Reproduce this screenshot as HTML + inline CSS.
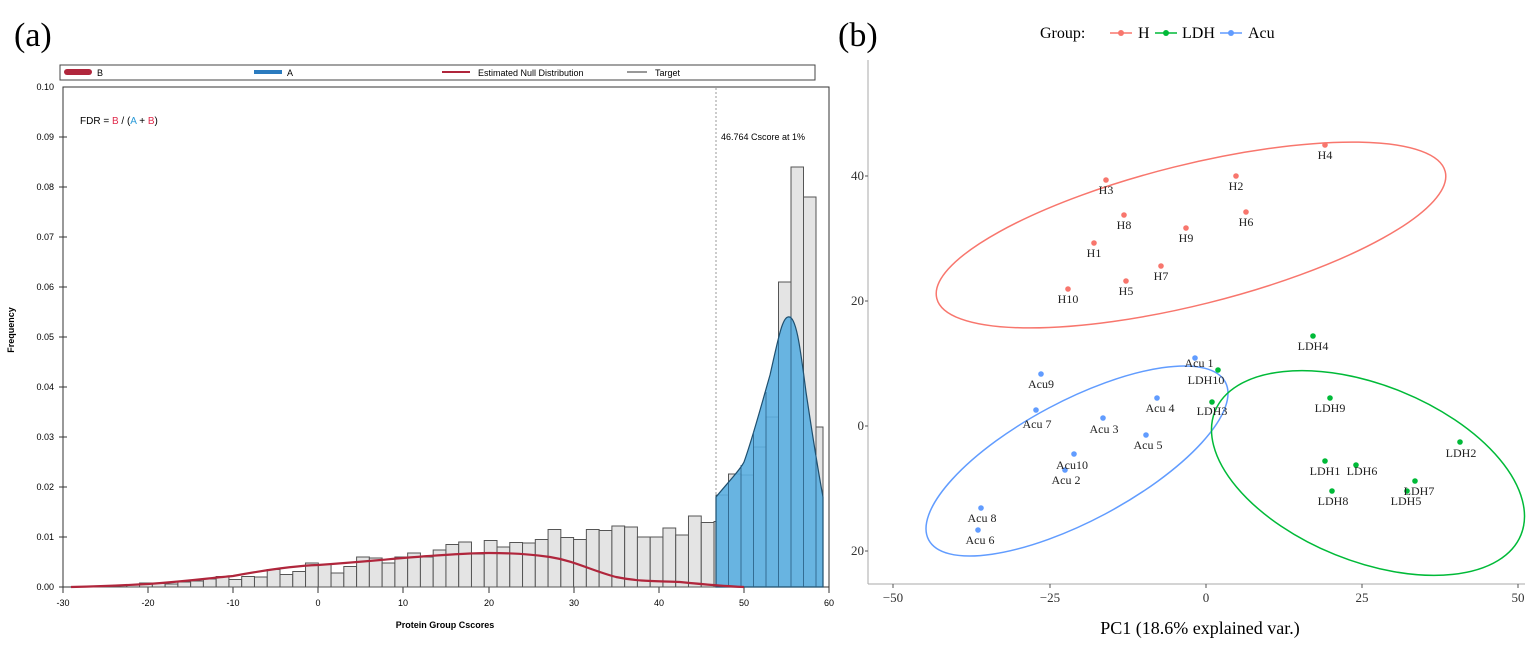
<!DOCTYPE html>
<html><head><meta charset="utf-8"><style>
body{margin:0;background:#fff;}
svg{display:block;}
</style></head><body>
<svg width="1535" height="650" viewBox="0 0 1535 650" xmlns="http://www.w3.org/2000/svg">
<rect width="1535" height="650" fill="#fff"/>
<text x="14" y="46" font-family="Liberation Serif, serif" font-size="34">(a)</text>
<text x="838" y="46" font-family="Liberation Serif, serif" font-size="34">(b)</text>

<rect x="60" y="65" width="755" height="15" fill="#fff" stroke="#444" stroke-width="1"/>
<rect x="64" y="69" width="28" height="6" rx="3" fill="#b0263c"/>
<text x="97" y="76" font-family="Liberation Sans, sans-serif" font-size="9">B</text>
<rect x="254" y="70" width="28" height="4" fill="#2b7bbf"/>
<text x="287" y="76" font-family="Liberation Sans, sans-serif" font-size="9">A</text>
<line x1="442" y1="72" x2="470" y2="72" stroke="#b0263c" stroke-width="2"/>
<text x="478" y="76" font-family="Liberation Sans, sans-serif" font-size="9">Estimated Null Distribution</text>
<line x1="627" y1="72" x2="647" y2="72" stroke="#999" stroke-width="2"/>
<text x="655" y="76" font-family="Liberation Sans, sans-serif" font-size="9">Target</text>

<rect x="63" y="87" width="766" height="500" fill="#fff" stroke="#333" stroke-width="1"/>
<g font-family="Liberation Sans, sans-serif" font-size="9" text-anchor="end">
<text x="54" y="590">0.00</text><text x="54" y="540">0.01</text><text x="54" y="490">0.02</text>
<text x="54" y="440">0.03</text><text x="54" y="390">0.04</text><text x="54" y="340">0.05</text>
<text x="54" y="290">0.06</text><text x="54" y="240">0.07</text><text x="54" y="190">0.08</text>
<text x="54" y="140">0.09</text><text x="54" y="90">0.10</text>
</g>
<g stroke="#333" stroke-width="1">
<line x1="59" y1="587" x2="67" y2="587"/><line x1="59" y1="537" x2="67" y2="537"/><line x1="59" y1="487" x2="67" y2="487"/><line x1="59" y1="437" x2="67" y2="437"/><line x1="59" y1="387" x2="67" y2="387"/><line x1="59" y1="337" x2="67" y2="337"/><line x1="59" y1="287" x2="67" y2="287"/><line x1="59" y1="237" x2="67" y2="237"/><line x1="59" y1="187" x2="67" y2="187"/><line x1="59" y1="137" x2="67" y2="137"/>
</g>
<text transform="translate(14,330) rotate(-90)" font-family="Liberation Sans, sans-serif" font-size="9" font-weight="bold" text-anchor="middle">Frequency</text>
<g font-family="Liberation Sans, sans-serif" font-size="9" text-anchor="middle">
<text x="63" y="606">-30</text><text x="148" y="606">-20</text><text x="233" y="606">-10</text><text x="318" y="606">0</text><text x="403" y="606">10</text><text x="489" y="606">20</text><text x="574" y="606">30</text><text x="659" y="606">40</text><text x="744" y="606">50</text><text x="829" y="606">60</text>
</g>
<g stroke="#333"><line x1="63" y1="587" x2="63" y2="593"/><line x1="148" y1="587" x2="148" y2="593"/><line x1="233" y1="587" x2="233" y2="593"/><line x1="318" y1="587" x2="318" y2="593"/><line x1="403" y1="587" x2="403" y2="593"/><line x1="489" y1="587" x2="489" y2="593"/><line x1="574" y1="587" x2="574" y2="593"/><line x1="659" y1="587" x2="659" y2="593"/><line x1="744" y1="587" x2="744" y2="593"/><line x1="829" y1="587" x2="829" y2="593"/></g>
<text x="445" y="628" font-family="Liberation Sans, sans-serif" font-size="9" font-weight="bold" text-anchor="middle">Protein Group Cscores</text>

<text x="80" y="124" font-family="Liberation Sans, sans-serif" font-size="10">FDR = <tspan fill="#e0294a">B</tspan> / (<tspan fill="#2a9ad8">A</tspan> + <tspan fill="#e0294a">B</tspan>)</text>
<line x1="716" y1="88" x2="716" y2="587" stroke="#999" stroke-dasharray="2,2"/>
<text x="721" y="140" font-family="Liberation Sans, sans-serif" font-size="9">46.764 Cscore at 1%</text>

<g transform="translate(63,587) scale(8.51,-5000)" fill="#e4e4e4" stroke="#555">
<rect x="3" y="0" width="1.5" height="0.0002" vector-effect="non-scaling-stroke"/>
<rect x="4.5" y="0" width="1.5" height="0.0003" vector-effect="non-scaling-stroke"/>
<rect x="6" y="0" width="1.5" height="0.0004" vector-effect="non-scaling-stroke"/>
<rect x="7.5" y="0" width="1.5" height="0.0005" vector-effect="non-scaling-stroke"/>
<rect x="9" y="0" width="1.5" height="0.0008" vector-effect="non-scaling-stroke"/>
<rect x="10.5" y="0" width="1.5" height="0.0007" vector-effect="non-scaling-stroke"/>
<rect x="12" y="0" width="1.5" height="0.0006" vector-effect="non-scaling-stroke"/>
<rect x="13.5" y="0" width="1.5" height="0.001" vector-effect="non-scaling-stroke"/>
<rect x="15" y="0" width="1.5" height="0.0012" vector-effect="non-scaling-stroke"/>
<rect x="16.5" y="0" width="1.5" height="0.0016" vector-effect="non-scaling-stroke"/>
<rect x="18" y="0" width="1.5" height="0.0021" vector-effect="non-scaling-stroke"/>
<rect x="19.5" y="0" width="1.5" height="0.0015" vector-effect="non-scaling-stroke"/>
<rect x="21" y="0" width="1.5" height="0.0021" vector-effect="non-scaling-stroke"/>
<rect x="22.5" y="0" width="1.5" height="0.002" vector-effect="non-scaling-stroke"/>
<rect x="24" y="0" width="1.5" height="0.0035" vector-effect="non-scaling-stroke"/>
<rect x="25.5" y="0" width="1.5" height="0.0025" vector-effect="non-scaling-stroke"/>
<rect x="27" y="0" width="1.5" height="0.0031" vector-effect="non-scaling-stroke"/>
<rect x="28.5" y="0" width="1.5" height="0.0048" vector-effect="non-scaling-stroke"/>
<rect x="30" y="0" width="1.5" height="0.0045" vector-effect="non-scaling-stroke"/>
<rect x="31.5" y="0" width="1.5" height="0.0028" vector-effect="non-scaling-stroke"/>
<rect x="33" y="0" width="1.5" height="0.0041" vector-effect="non-scaling-stroke"/>
<rect x="34.5" y="0" width="1.5" height="0.006" vector-effect="non-scaling-stroke"/>
<rect x="36" y="0" width="1.5" height="0.0058" vector-effect="non-scaling-stroke"/>
<rect x="37.5" y="0" width="1.5" height="0.0048" vector-effect="non-scaling-stroke"/>
<rect x="39" y="0" width="1.5" height="0.006" vector-effect="non-scaling-stroke"/>
<rect x="40.5" y="0" width="1.5" height="0.0068" vector-effect="non-scaling-stroke"/>
<rect x="42" y="0" width="1.5" height="0.006" vector-effect="non-scaling-stroke"/>
<rect x="43.5" y="0" width="1.5" height="0.0074" vector-effect="non-scaling-stroke"/>
<rect x="45" y="0" width="1.5" height="0.0085" vector-effect="non-scaling-stroke"/>
<rect x="46.5" y="0" width="1.5" height="0.009" vector-effect="non-scaling-stroke"/>
<rect x="48" y="0" width="1.5" height="0.0066" vector-effect="non-scaling-stroke"/>
<rect x="49.5" y="0" width="1.5" height="0.0093" vector-effect="non-scaling-stroke"/>
<rect x="51" y="0" width="1.5" height="0.008" vector-effect="non-scaling-stroke"/>
<rect x="52.5" y="0" width="1.5" height="0.0089" vector-effect="non-scaling-stroke"/>
<rect x="54" y="0" width="1.5" height="0.0088" vector-effect="non-scaling-stroke"/>
<rect x="55.5" y="0" width="1.5" height="0.0095" vector-effect="non-scaling-stroke"/>
<rect x="57" y="0" width="1.5" height="0.0115" vector-effect="non-scaling-stroke"/>
<rect x="58.5" y="0" width="1.5" height="0.0099" vector-effect="non-scaling-stroke"/>
<rect x="60" y="0" width="1.5" height="0.0095" vector-effect="non-scaling-stroke"/>
<rect x="61.5" y="0" width="1.5" height="0.0115" vector-effect="non-scaling-stroke"/>
<rect x="63" y="0" width="1.5" height="0.0113" vector-effect="non-scaling-stroke"/>
<rect x="64.5" y="0" width="1.5" height="0.0122" vector-effect="non-scaling-stroke"/>
<rect x="66" y="0" width="1.5" height="0.012" vector-effect="non-scaling-stroke"/>
<rect x="67.5" y="0" width="1.5" height="0.01" vector-effect="non-scaling-stroke"/>
<rect x="69" y="0" width="1.5" height="0.01" vector-effect="non-scaling-stroke"/>
<rect x="70.5" y="0" width="1.5" height="0.0118" vector-effect="non-scaling-stroke"/>
<rect x="72" y="0" width="1.5" height="0.0104" vector-effect="non-scaling-stroke"/>
<rect x="73.5" y="0" width="1.5" height="0.0142" vector-effect="non-scaling-stroke"/>
<rect x="75" y="0" width="1.5" height="0.0129" vector-effect="non-scaling-stroke"/>
<rect x="76.5" y="0" width="1.5" height="0.0131" vector-effect="non-scaling-stroke"/>
<rect x="78" y="0" width="1.5" height="0.0115" vector-effect="non-scaling-stroke"/>
<rect x="79.5" y="0" width="1.5" height="0.0131" vector-effect="non-scaling-stroke"/>
<rect x="81" y="0" width="1.5" height="0.0118" vector-effect="non-scaling-stroke"/>
<rect x="82.5" y="0" width="1.5" height="0.0155" vector-effect="non-scaling-stroke"/>
<rect x="84" y="0" width="1.5" height="0.0155" vector-effect="non-scaling-stroke"/>
<rect x="85.5" y="0" width="1.26" height="0.0185" vector-effect="non-scaling-stroke"/>
</g>
<!-- grey bars in accepted region (pixel coords) -->
<g fill="#e4e4e4" stroke="#555" stroke-width="1">
<rect x="716" y="495" width="12.5" height="92"/>
<rect x="728.5" y="474" width="12.5" height="113"/>
<rect x="741" y="475" width="12.5" height="112"/>
<rect x="753.5" y="447" width="12.5" height="140"/>
<rect x="766" y="417" width="12.5" height="170"/>
<rect x="778.5" y="282" width="12.5" height="305"/>
<rect x="791" y="167" width="12.5" height="420"/>
<rect x="803.5" y="197" width="12.5" height="390"/>
<rect x="816" y="427" width="7" height="160"/>
</g>
<path d="M716,587 L716,497 C730,480 740,470 744,462 C752,440 760,410 770,375 C778,340 782,318 788,317 C796,315 800,345 806,392 C812,432 818,470 823,497 L823,587 Z" fill="#5aaee0" fill-opacity="0.9" stroke="#1f4f6e" stroke-width="1.2"/>
<g stroke="#2a5f85" stroke-width="0.8">
<line x1="728.5" y1="587" x2="728.5" y2="483"/><line x1="741" y1="587" x2="741" y2="465"/><line x1="753.5" y1="587" x2="753.5" y2="432"/><line x1="766" y1="587" x2="766" y2="392"/><line x1="778.5" y1="587" x2="778.5" y2="340"/><line x1="791" y1="587" x2="791" y2="316"/><line x1="803.5" y1="587" x2="803.5" y2="375"/><line x1="816" y1="587" x2="816" y2="455"/>
</g>
<path d="M71,587 C110,586 130,585 148,584 C190,581 210,578 233,576 C260,571 290,566 318,565 C360,562 380,560 403,558 C440,555 470,553 489,553 C510,553 530,554 550,557 C575,561 590,570 616,577 C640,582 660,581 680,582 C700,584 720,586 744,587" fill="none" stroke="#b0263c" stroke-width="2.2"/>

<!-- Panel b -->
<text x="1040" y="38" font-family="Liberation Serif, serif" font-size="16">Group:</text>
<line x1="1110" y1="33" x2="1132" y2="33" stroke="#F8766D" stroke-width="1.5"/><circle cx="1121" cy="33" r="3" fill="#F8766D"/>
<text x="1138" y="38" font-family="Liberation Serif, serif" font-size="16">H</text>
<line x1="1155" y1="33" x2="1177" y2="33" stroke="#00BA38" stroke-width="1.5"/><circle cx="1166" cy="33" r="3" fill="#00BA38"/>
<text x="1182" y="38" font-family="Liberation Serif, serif" font-size="16">LDH</text>
<line x1="1220" y1="33" x2="1242" y2="33" stroke="#619CFF" stroke-width="1.5"/><circle cx="1231" cy="33" r="3" fill="#619CFF"/>
<text x="1248" y="38" font-family="Liberation Serif, serif" font-size="16">Acu</text>

<line x1="868" y1="60" x2="868" y2="584" stroke="#aaa"/>
<line x1="868" y1="584" x2="1525" y2="584" stroke="#aaa"/>
<g font-family="Liberation Serif, serif" font-size="13" fill="#333" text-anchor="end">
<text x="864" y="180">40</text><text x="864" y="305">20</text><text x="864" y="430">0</text><text x="864" y="555">20</text>
</g>
<g stroke="#555"><line x1="865" y1="176" x2="868" y2="176"/><line x1="865" y1="301" x2="868" y2="301"/><line x1="865" y1="426" x2="868" y2="426"/><line x1="865" y1="551" x2="868" y2="551"/>
<line x1="893" y1="584" x2="893" y2="588"/><line x1="1050" y1="584" x2="1050" y2="588"/><line x1="1206" y1="584" x2="1206" y2="588"/><line x1="1362" y1="584" x2="1362" y2="588"/><line x1="1518" y1="584" x2="1518" y2="588"/></g>
<g font-family="Liberation Serif, serif" font-size="13" fill="#333" text-anchor="middle">
<text x="893" y="602">−50</text><text x="1050" y="602">−25</text><text x="1206" y="602">0</text><text x="1362" y="602">25</text><text x="1518" y="602">50</text>
</g>
<text x="1200" y="634" font-family="Liberation Serif, serif" font-size="18" text-anchor="middle">PC1 (18.6% explained var.)</text>

<ellipse cx="1191" cy="235" rx="262" ry="70" transform="rotate(-14 1191 235)" fill="none" stroke="#F8766D" stroke-width="1.5"/>
<ellipse cx="1077" cy="461" rx="168" ry="60" transform="rotate(-28 1077 461)" fill="none" stroke="#619CFF" stroke-width="1.5"/>
<ellipse cx="1368" cy="473" rx="165" ry="88" transform="rotate(22 1368 473)" fill="none" stroke="#00BA38" stroke-width="1.5"/>

<g fill="#F8766D">
<circle cx="1325" cy="145" r="2.8"/><circle cx="1236" cy="176" r="2.8"/><circle cx="1106" cy="180" r="2.8"/><circle cx="1124" cy="215" r="2.8"/><circle cx="1246" cy="212" r="2.8"/><circle cx="1186" cy="228" r="2.8"/><circle cx="1094" cy="243" r="2.8"/><circle cx="1161" cy="266" r="2.8"/><circle cx="1126" cy="281" r="2.8"/><circle cx="1068" cy="289" r="2.8"/>
</g>
<g fill="#00BA38">
<circle cx="1313" cy="336" r="2.8"/><circle cx="1218" cy="370" r="2.8"/><circle cx="1330" cy="398" r="2.8"/><circle cx="1212" cy="402" r="2.8"/><circle cx="1460" cy="442" r="2.8"/><circle cx="1325" cy="461" r="2.8"/><circle cx="1356" cy="465" r="2.8"/><circle cx="1415" cy="481" r="2.8"/><circle cx="1407" cy="491" r="2.8"/><circle cx="1332" cy="491" r="2.8"/>
</g>
<g fill="#619CFF">
<circle cx="1195" cy="358" r="2.8"/><circle cx="1041" cy="374" r="2.8"/><circle cx="1157" cy="398" r="2.8"/><circle cx="1036" cy="410" r="2.8"/><circle cx="1103" cy="418" r="2.8"/><circle cx="1146" cy="435" r="2.8"/><circle cx="1074" cy="454" r="2.8"/><circle cx="1065" cy="470" r="2.8"/><circle cx="981" cy="508" r="2.8"/><circle cx="978" cy="530" r="2.8"/>
</g>
<g font-family="Liberation Serif, serif" font-size="12" fill="#222" text-anchor="middle">
<text x="1325" y="159">H4</text><text x="1236" y="190">H2</text><text x="1106" y="194">H3</text><text x="1124" y="229">H8</text><text x="1246" y="226">H6</text><text x="1186" y="242">H9</text><text x="1094" y="257">H1</text><text x="1161" y="280">H7</text><text x="1126" y="295">H5</text><text x="1068" y="303">H10</text>
<text x="1313" y="350">LDH4</text><text x="1199" y="367">Acu 1</text><text x="1206" y="384">LDH10</text><text x="1330" y="412">LDH9</text><text x="1041" y="388">Acu9</text><text x="1160" y="412">Acu 4</text><text x="1212" y="415">LDH3</text><text x="1037" y="428">Acu 7</text><text x="1104" y="433">Acu 3</text><text x="1148" y="449">Acu 5</text><text x="1461" y="457">LDH2</text><text x="1072" y="469">Acu10</text><text x="1066" y="484">Acu 2</text>
<text x="1325" y="475">LDH1</text><text x="1362" y="475">LDH6</text><text x="1419" y="495">LDH7</text><text x="1406" y="505">LDH5</text><text x="1333" y="505">LDH8</text><text x="982" y="522">Acu 8</text><text x="980" y="544">Acu 6</text>
</g>
</svg>
</body></html>
